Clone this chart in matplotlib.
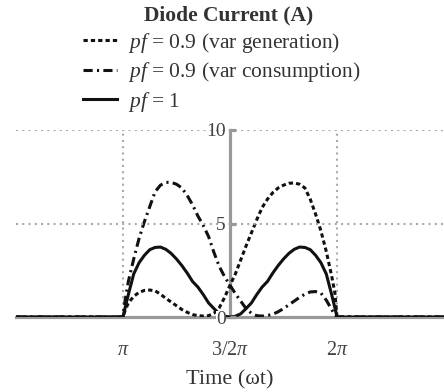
import numpy as np
import matplotlib
matplotlib.use("Agg")
import matplotlib.pyplot as plt

plt.rcParams['font.family'] = ['Liberation Serif', 'DejaVu Serif']
plt.rcParams['mathtext.fontset'] = 'custom'
plt.rcParams['mathtext.rm'] = 'Liberation Serif'
plt.rcParams['mathtext.it'] = 'Liberation Serif:italic'

#%% data (angle in units of pi)
angle = [0.5, 1.0, 1.01, 1.025, 1.05, 1.075, 1.1, 1.125, 1.15, 1.175, 1.2,
         1.225, 1.25, 1.275, 1.3, 1.325, 1.35, 1.375, 1.4, 1.425, 1.45,
         1.475, 1.5, 1.525, 1.55, 1.575, 1.6, 1.625, 1.65, 1.675, 1.7,
         1.725, 1.75, 1.775, 1.8, 1.825, 1.85, 1.875, 1.9, 1.925, 1.95,
         1.975, 1.99, 2.0, 2.5]

i_gen = [0, 0, 0.35, 0.75, 1.1, 1.32, 1.42, 1.44, 1.4, 1.22, 1.0,
         0.8, 0.6, 0.4, 0.25, 0.13, 0.07, 0.05, 0.07, 0.2, 0.5,
         1.05, 1.7, 2.3, 3.05, 3.8, 4.5, 5.2, 5.85, 6.3, 6.65,
         6.9, 7.05, 7.15, 7.17, 7.1, 6.9, 6.3, 5.5, 4.6, 3.5,
         2.2, 1.3, 0, 0]

i_cons = [0, 0, 0.9, 1.9, 3.1, 4.2, 5.1, 5.9, 6.7, 7.05, 7.2,
          7.2, 7.1, 6.9, 6.5, 6.0, 5.4, 4.9, 4.3, 3.45, 2.7,
          2.15, 1.7, 1.25, 0.85, 0.45, 0.2, 0.07, 0.05, 0.08, 0.15,
          0.28, 0.45, 0.65, 0.85, 1.05, 1.22, 1.34, 1.36, 1.28, 0.9,
          0.4, 0.12, 0, 0]

i_unity = [0, 0, 0.5, 1.2, 2.3, 2.9, 3.3, 3.6, 3.72, 3.74, 3.62,
           3.4, 3.1, 2.75, 2.35, 1.9, 1.6, 1.2, 0.75, 0.45, 0.17,
           0.04, 0, 0.04, 0.17, 0.45, 0.75, 1.2, 1.6, 1.9, 2.35,
           2.75, 3.1, 3.4, 3.62, 3.74, 3.72, 3.6, 3.3, 2.9, 2.3,
           1.2, 0.5, 0, 0]

labels = [r'$pf$ = 0.9 (var generation)',
          r'$pf$ = 0.9 (var consumption)',
          r'$pf$ = 1']
xticks = [1.0, 1.5, 2.0]
xticklabels = [r'$\pi$', r'3/2$\pi$', r'2$\pi$']

#%% plot
fig = plt.figure(figsize=(4.44, 3.92), dpi=100)
ax = fig.add_axes([16/444, 1 - 317/392, 428/444, 187/392])

x = np.array(angle)
l1, = ax.plot(x, i_gen, color='#111111', lw=2.2, ls=(0, (1.4, 1.0)), zorder=3)
l2, = ax.plot(x, i_cons, color='#111111', lw=2.2, ls=(0, (3.0, 1.4, 0.7, 1.4)), zorder=3)
l3, = ax.plot(x, i_unity, color='#111111', lw=2.2, zorder=3)

ax.set_xlim(0.5, 2.5)
ax.set_ylim(0, 10)

for s in ['top', 'right']:
    ax.spines[s].set_visible(False)
ax.spines['left'].set_position(('data', 1.5))
ax.spines['bottom'].set_position(('data', 0))
for s in ['left', 'bottom']:
    ax.spines[s].set_color('#999999')
    ax.spines[s].set_linewidth(2.3)
    ax.spines[s].set_zorder(1)

ax.set_xticks(xticks)
ax.set_xticklabels(xticklabels)
ax.set_yticks([0, 5, 10])
ax.tick_params(axis='x', length=0, pad=17, labelsize=14.5, labelcolor='#444444')
ax.tick_params(axis='y', direction='in', length=4, width=2.3, color='#999999',
               pad=3, labelsize=14, labelcolor='#444444')
ax.yaxis.set_zorder(4)
zero_lbl = ax.get_yticklabels()[0]
zero_lbl.set_bbox(dict(facecolor='white', edgecolor='none', pad=0))

ax.grid(True, color='#aaaaaa', ls=(0, (1, 2)), lw=1.5)
ax.xaxis.get_gridlines()[1].set_visible(False)
ax.yaxis.get_gridlines()[0].set_visible(False)

ax.set_xlabel('Time (ωt)', fontsize=16, color='#333333', labelpad=8)

fig.text(0.514, 1 - 15/392, 'Diode Current (A)', ha='center', va='center',
         fontsize=15.5, fontweight='bold', color='#333333')

fig.legend([l1, l2, l3], labels, loc='upper left',
           bbox_to_anchor=(83/444, 1 - 31/392), frameon=False, fontsize=15.5,
           handlelength=1.6, handletextpad=0.5, labelspacing=0.25,
           borderpad=0, borderaxespad=0, labelcolor='#333333')

fig.savefig('out.png', dpi=100)
